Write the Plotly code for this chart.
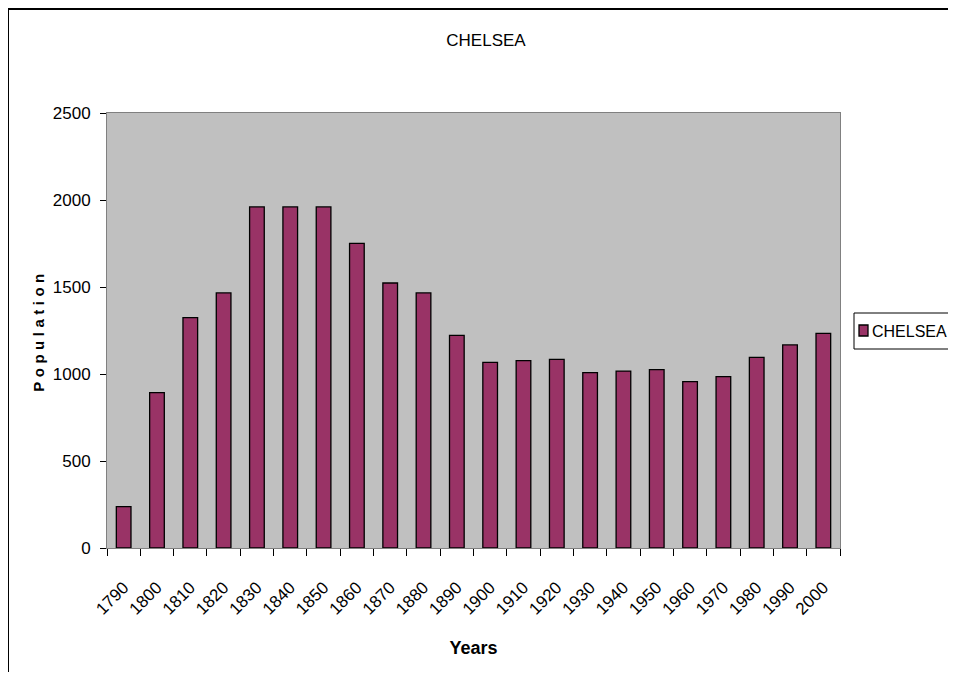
import plotly.graph_objects as go

years = ["1790", "1800", "1810", "1820", "1830", "1840", "1850", "1860", "1870", "1880", "1890",
         "1900", "1910", "1920", "1930", "1940", "1950", "1960", "1970", "1980", "1990", "2000"]
population = [238, 893, 1324, 1466, 1960, 1960, 1960, 1751, 1523, 1466, 1222,
              1067, 1077, 1084, 1008, 1017, 1025, 956, 985, 1096, 1167, 1234]
y_ticks = [0, 500, 1000, 1500, 2000, 2500]
series_name = "CHELSEA"
bar_color = "#993366"

SANS = "Liberation Sans, Arial, sans-serif"

# plot area (figure px): x 99..832, y 105..540
L, T, R_, B_ = 99, 105, 832, 540
W, H = 940, 664
PW, PH = R_ - L, B_ - T


def px(fx):
    return (fx - L) / PW


def py(fy):
    return (B_ - fy) / PH


fig = go.Figure()
fig.add_trace(go.Bar(
    x=years, y=population, name=series_name, showlegend=False,
    marker=dict(color=bar_color, line=dict(color="#000000", width=1.3)),
))

# legend box (drawn manually so the entry sits as in the original)
legend_shapes = [
    dict(type="rect", xref="paper", yref="paper",
         x0=px(846), x1=px(1000), y0=py(341), y1=py(305),
         line=dict(color="black", width=1), fillcolor="white"),
    dict(type="rect", xref="paper", yref="paper",
         x0=px(851), x1=px(860), y0=py(328), y1=py(317),
         line=dict(color="black", width=1.3), fillcolor=bar_color),
]

fig.update_layout(
    width=W, height=H,
    margin=dict(l=L, r=W - R_, t=T, b=H - B_, autoexpand=False),
    paper_bgcolor="white", plot_bgcolor="#C0C0C0",
    font=dict(family=SANS, size=17, color="black"),
    title=dict(text=series_name, x=478 / W, xanchor="center", y=1 - 32 / H, yanchor="middle",
               font=dict(family=SANS, size=17, color="black")),
    bargap=0.56,
    showlegend=False,
    shapes=[dict(type="rect", xref="paper", yref="paper",
                 x0=px(0), y0=-1.0, x1=2.0, y1=py(1),
                 line=dict(color="black", width=2), fillcolor="rgba(0,0,0,0)", layer="below")]
           + legend_shapes,
    annotations=[dict(text=series_name, xref="paper", yref="paper",
                      x=px(862), y=py(323), xanchor="left", yanchor="middle",
                      showarrow=False, font=dict(family=SANS, size=16, color="black"))],
)

fig.update_xaxes(
    type="category", tickangle=-45, tickson="boundaries",
    ticks="outside", ticklen=7, tickcolor="#000000",
    ticklabelstandoff=22,
    showline=True, linecolor="#808080", linewidth=1, mirror=True,
    showgrid=False,
    tickfont=dict(family=SANS, size=17, color="black"),
    title=dict(text="<b>Years</b>", font=dict(family=SANS, size=18, color="black"), standoff=23),
)
fig.update_yaxes(
    range=[0, 2500], tickvals=y_ticks, ticks="outside", ticklen=6, tickcolor="#000000",
    ticklabelstandoff=6,
    showline=True, linecolor="#808080", linewidth=1, mirror=True,
    showgrid=False, zeroline=False,
    tickfont=dict(family=SANS, size=17, color="black"),
    title=dict(text='<b><span style="letter-spacing:4.5px">Population</span></b>',
               font=dict(family=SANS, size=15, color="black"), standoff=4),
)

fig.write_html("out.html")
